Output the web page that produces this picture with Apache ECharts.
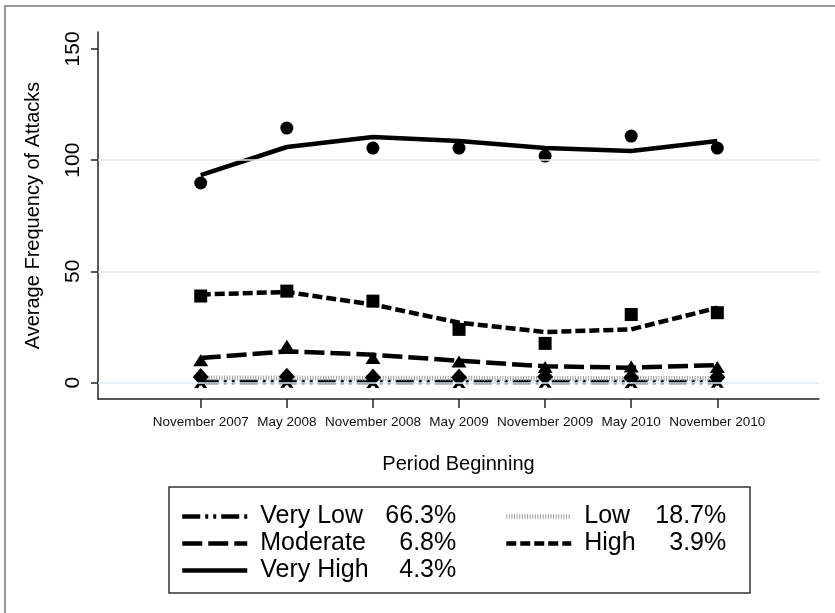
<!DOCTYPE html>
<html>
<head>
<meta charset="utf-8">
<script src="https://cdn.jsdelivr.net/npm/echarts@6/dist/echarts.min.js"></script>
<style>
  html, body { margin: 0; padding: 0; background: #fff; }
  #chart { width: 835px; height: 613px; }
</style>
</head>
<body>
<div id="chart"></div>
<script>
// Six-month periods on the horizontal axis
const periods = ['November 2007', 'May 2008', 'November 2008', 'May 2009',
                 'November 2009', 'May 2010', 'November 2010'];
const yTicks = [0, 50, 100, 150];
const gridValues = [0, 50, 100];

// Group names and their shares
const groupNames = ['Very Low', 'Low', 'Moderate', 'High', 'Very High'];
const groupShares = ['66.3%', '18.7%', '6.8%', '3.9%', '4.3%'];

// Observed average frequency of attacks per group (markers)
const veryLowObs  = [0.5, 0.6, 0.5, 0.5, 0.6, 0.5, 0.6];
const lowObs      = [2.5, 2.6, 2.3, 2.3, 2.6, 2.2, 2.4];
const moderateObs = [10.0, 16.5, 11.0, 9.5, 7.0, 7.2, 7.0];
const highObs     = [38.9, 41.1, 36.6, 23.9, 17.6, 30.6, 31.4];
const veryHighObs = [89.7, 114.4, 105.4, 105.4, 101.8, 110.8, 105.4];

// Fitted trajectories per group (lines)
const veryLowFit  = [0.2, 0.2, 0.2, 0.2, 0.2, 0.2, 0.2];
const lowFit      = [2.0, 2.0, 1.9, 1.9, 1.8, 1.8, 1.8];
const moderateFit = [11.0, 14.0, 12.5, 9.8, 7.3, 6.7, 7.8];
const highFit     = [39.6, 40.7, 35.1, 26.9, 22.7, 23.9, 33.6];
const veryHighFit = [93.3, 105.9, 110.4, 108.6, 105.4, 104.1, 108.6];

const FONT = '"Liberation Sans", Arial, Helvetica, sans-serif';
const toPairs = arr => arr.map((v, i) => [i, v]);

// X-shaped marker
const xSymbol = 'path://M0,0 L3,0 L5,3 L7,0 L10,0 L6.5,5 L10,10 L7,10 L5,7 L3,10 L0,10 L3.5,5 Z';

const lineStyles = {
  'Very Low':  { color: '#000', width: 4.5, type: [18, 5, 3, 5, 3, 5] },
  'Low':       { color: '#9a9a9a', width: 5, type: [1, 1.6] },
  'Moderate':  { color: '#000', width: 4.5, type: [20, 6] },
  'High':      { color: '#000', width: 4.5, type: [10, 4] },
  'Very High': { color: '#000', width: 4.5, type: 'solid' }
};
const fits = { 'Very Low': veryLowFit, 'Low': lowFit, 'Moderate': moderateFit, 'High': highFit, 'Very High': veryHighFit };
const obs  = { 'Very Low': veryLowObs, 'Low': lowObs, 'Moderate': moderateObs, 'High': highObs, 'Very High': veryHighObs };
const markers = {
  'Very Low':  { symbol: xSymbol, size: 13 },
  'Low':       { symbol: 'diamond', size: [16, 18] },
  'Moderate':  { symbol: 'triangle', size: [15, 12] },
  'High':      { symbol: 'rect', size: 13 },
  'Very High': { symbol: 'circle', size: 13 }
};

const series = [];
// Marker layers
groupNames.forEach(name => {
  series.push({
    name: name + ' observed',
    type: 'scatter',
    data: toPairs(obs[name]),
    symbol: markers[name].symbol,
    symbolSize: markers[name].size,
    itemStyle: { color: '#000', opacity: 1 },
    z: 3
  });
});
// Fitted lines
groupNames.forEach(name => {
  series.push({
    name: name,
    type: 'line',
    data: toPairs(fits[name]),
    symbol: 'none',
    showSymbol: false,
    smooth: false,
    lineStyle: lineStyles[name],
    itemStyle: { color: lineStyles[name].color },
    z: 2
  });
});
// Horizontal reference lines at the major ticks
series.push({
  name: 'grid',
  type: 'line',
  data: [],
  silent: true,
  z: 1,
  markLine: {
    silent: true,
    symbol: 'none',
    label: { show: false },
    lineStyle: { color: '#dfeaee', width: 1.5, type: 'solid' },
    data: gridValues.map(v => ({ yAxis: v }))
  }
});

const shareOf = name => groupShares[groupNames.indexOf(name)];

function legendFor(names, left, nameWidth) {
  return {
    orient: 'vertical',
    left: left,
    top: 503,
    padding: 0,
    itemWidth: 65,
    itemHeight: 14,
    itemGap: 0,
    data: names,
    selectedMode: false,
    itemStyle: { opacity: 0 },
    lineStyle: { width: 4.5 },
    formatter: n => '{n|' + n + '}{p|' + shareOf(n) + '}',
    textStyle: {
      fontFamily: FONT,
      fontSize: 25,
      lineHeight: 27,
      color: '#000',
      rich: {
        n: { width: nameWidth, fontSize: 25, lineHeight: 27, fontFamily: FONT, color: '#000', padding: [0, 0, 0, 8] },
        p: { width: 72, align: 'right', fontSize: 25, lineHeight: 27, fontFamily: FONT, color: '#000' }
      }
    }
  };
}

const chart = echarts.init(document.getElementById('chart'), null, { renderer: 'canvas' });
chart.setOption({
  animation: false,
  backgroundColor: '#fff',
  grid: { left: 98, right: 16, top: 32, bottom: 214, containLabel: false },
  xAxis: {
    type: 'value',
    min: -1.193,
    max: 7.181,
    name: 'Period Beginning',
    nameLocation: 'middle',
    nameGap: 55,
    nameTextStyle: { fontFamily: FONT, fontSize: 20, color: '#000' },
    axisLine: { show: true, onZero: false, lineStyle: { color: '#222', width: 1.5 } },
    axisTick: { show: true, length: 9, customValues: periods.map((p, i) => i), lineStyle: { color: '#222', width: 1.5 } },
    axisLabel: {
      customValues: periods.map((p, i) => i),
      formatter: v => periods[Math.round(v)] || '',
      fontFamily: FONT, fontSize: 13.5, color: '#111', margin: 16
    },
    splitLine: { show: false }
  },
  yAxis: {
    type: 'value',
    min: -7.4,
    max: 157.6,
    name: 'Average Frequency of Attacks',
    nameLocation: 'middle',
    nameRotate: 90,
    nameGap: 55,
    nameTextStyle: { fontFamily: FONT, fontSize: 20, color: '#000' },
    axisLine: { show: true, onZero: false, lineStyle: { color: '#222', width: 1.5 } },
    axisTick: { show: true, length: 7, customValues: yTicks, lineStyle: { color: '#222', width: 1.5 } },
    axisLabel: {
      customValues: yTicks,
      rotate: 90,
      fontFamily: FONT, fontSize: 21, color: '#000', margin: 14
    },
    splitLine: { show: false }
  },
  legend: [
    legendFor(['Very Low', 'Moderate', 'Very High'], 180, 124),
    legendFor(['Low', 'High'], 504, 70)
  ],
  graphic: [
    { type: 'rect', shape: { x: 5, y: 6, width: 840, height: 620 },
      style: { fill: null, stroke: '#777', lineWidth: 1.5 }, silent: true },
    { type: 'rect', shape: { x: 169, y: 487, width: 581, height: 106 },
      style: { fill: null, stroke: '#333', lineWidth: 1.5 }, silent: true }
  ],
  series: series
});
</script>
</body>
</html>
